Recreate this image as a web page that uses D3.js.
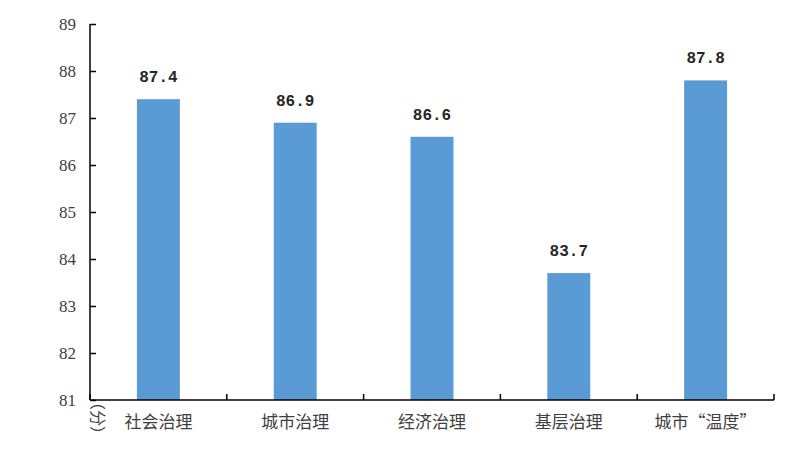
<!DOCTYPE html>
<html>
<head>
<meta charset="utf-8">
<script src="https://cdn.jsdelivr.net/npm/d3@7"></script>
<style>
  body { margin: 0; background: #fff; }
  svg { display: block; }
</style>
</head>
<body>
<div id="chart"></div>
<script>
const categories = ["社会治理", "城市治理", "经济治理", "基层治理", "城市“温度”"];
const scores = [87.4, 86.9, 86.6, 83.7, 87.8];
const yTicks = [81, 82, 83, 84, 85, 86, 87, 88, 89];

const W = 797, H = 452;
const m = { left: 90, right: 23, top: 24, bottom: 52 };

const svg = d3.select("#chart").append("svg").attr("width", W).attr("height", H);

const x = d3.scaleBand().domain(categories).range([m.left, W - m.right]).paddingInner(0.686).paddingOuter(0.343);
const y = d3.scaleLinear().domain([81, 89]).range([H - m.bottom, m.top]);

// bars
svg.selectAll("rect.bar").data(scores).enter().append("rect")
  .attr("class", "bar")
  .attr("x", (d, i) => x(categories[i]))
  .attr("y", d => y(d))
  .attr("width", x.bandwidth())
  .attr("height", d => y(81) - y(d))
  .attr("fill", "#5B9BD5");

// value labels
svg.selectAll("text.val").data(scores).enter().append("text")
  .attr("class", "val")
  .attr("x", (d, i) => x(categories[i]) + x.bandwidth() / 2)
  .attr("y", d => y(d) - 17)
  .attr("text-anchor", "middle")
  .attr("font-family", "Liberation Mono, monospace")
  .attr("font-weight", "bold")
  .attr("font-size", "16px")
  .attr("fill", "#262626")
  .text(d => d.toFixed(1));

// y axis
const yAxis = svg.append("g").attr("transform", `translate(${m.left},0)`)
  .call(d3.axisLeft(y).tickValues(yTicks).tickSize(-6).tickPadding(14).tickFormat(d3.format("d")));
yAxis.select(".domain").remove();
yAxis.append("line").attr("x1", 0).attr("x2", 0).attr("y1", y(89)).attr("y2", y(81))
  .attr("stroke", "#000").attr("stroke-width", 1.5);
yAxis.selectAll(".tick line").attr("stroke", "#000").attr("stroke-width", 1.5);
yAxis.selectAll(".tick text")
  .attr("font-family", "Liberation Serif, serif")
  .attr("font-size", "17px")
  .attr("fill", "#404040");

// x axis
const xa = svg.append("g").attr("transform", `translate(0,${y(81)})`);
xa.append("line").attr("x1", m.left).attr("x2", W - m.right).attr("y1", 0).attr("y2", 0)
  .attr("stroke", "#000").attr("stroke-width", 1.5);
const step = x.step();
const bounds = d3.range(categories.length + 1).map(i => m.left + i * step);
xa.selectAll("line.tk").data(bounds).enter().append("line")
  .attr("class", "tk")
  .attr("x1", d => d).attr("x2", d => d).attr("y1", 0).attr("y2", -6)
  .attr("stroke", "#000").attr("stroke-width", 1.5);
xa.selectAll("text.cat").data(categories).enter().append("text")
  .attr("class", "cat")
  .attr("x", d => x(d) + x.bandwidth() / 2)
  .attr("y", 28)
  .attr("text-anchor", "middle")
  .attr("font-family", "Noto Sans CJK SC, sans-serif")
  .attr("font-size", "17px")
  .attr("fill", "#404040")
  .text(d => d);

// unit label
svg.append("text")
  .attr("transform", `translate(92,418) rotate(90)`)
  .attr("text-anchor", "middle")
  .attr("font-family", "Noto Sans CJK SC, sans-serif")
  .attr("font-size", "16px")
  .attr("fill", "#404040")
  .text("（分）");
</script>
</body>
</html>
